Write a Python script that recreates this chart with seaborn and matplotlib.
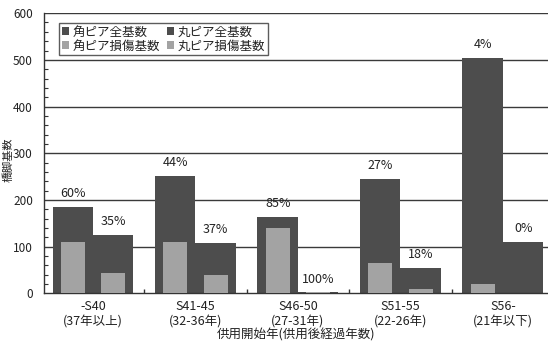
import matplotlib
matplotlib.use("Agg")
import matplotlib.pyplot as plt
import seaborn as sns
import pandas as pd
import numpy as np
from matplotlib.ticker import MultipleLocator, FixedLocator
from matplotlib.patches import Patch

categories = ["-S40\n(37年以上)", "S41-45\n(32-36年)", "S46-50\n(27-31年)", "S51-55\n(22-26年)", "S56-\n(21年以下)"]
square_total = [185, 251, 164, 244, 505]
round_total = [126, 108, 2, 55, 110]
square_damaged = [111, 110, 139, 65, 20]
round_damaged = [44, 40, 2, 10, 0]
square_pct = ["60%", "44%", "85%", "27%", "4%"]
round_pct = ["35%", "37%", "100%", "18%", "0%"]
y_ticks = [0, 100, 200, 300, 400, 500, 600]

sns.set_theme(style="white")
plt.rcParams['font.family'] = ['Noto Sans CJK JP', 'DejaVu Sans']

dark = "#4d4d4d"
light = "#a3a3a3"
fs = 9

df_total = pd.DataFrame({
    "cat": categories * 2,
    "val": square_total + round_total,
    "kind": ["角ピア全基数"] * 5 + ["丸ピア全基数"] * 5,
})
df_dmg = pd.DataFrame({
    "cat": categories * 2,
    "val": square_damaged + round_damaged,
    "kind": ["角ピア損傷基数"] * 5 + ["丸ピア損傷基数"] * 5,
})

fig = plt.figure(figsize=(5.48, 3.46), dpi=100)
ax = fig.add_axes([0.0803, 0.152, 0.9197, 0.810])

for y in y_ticks[1:]:
    ax.axhline(y, color="#3a3a3a", lw=1.0, zorder=0)

sns.barplot(data=df_total, x="cat", y="val", hue="kind", palette=[dark, dark],
            width=0.79, gap=0, ax=ax, saturation=1, zorder=2, legend=True)
sns.barplot(data=df_dmg, x="cat", y="val", hue="kind", palette=[light, light],
            width=0.79, gap=0.41, ax=ax, saturation=1, zorder=3, legend=True)

for p in ax.patches:
    p.set_linewidth(0)

# percent labels
bw = 0.79 / 2
for i in range(len(categories)):
    ax.annotate(square_pct[i], (i - bw / 2, square_total[i]), xytext=(0, 5),
                textcoords="offset points", ha="center", va="bottom", fontsize=fs, color="#222")
    ax.annotate(round_pct[i], (i + bw / 2, round_total[i]), xytext=(0, 5),
                textcoords="offset points", ha="center", va="bottom", fontsize=fs, color="#222")

ax.set_ylim(0, 600)
ax.set_xlim(-0.478, 4.44)
ax.set_yticks(y_ticks)
ax.yaxis.set_minor_locator(MultipleLocator(20))
ax.tick_params(axis="y", which="major", length=0, labelsize=8.5, pad=8, colors="#222")
ax.tick_params(axis="y", which="minor", left=True, direction="in", length=3, color="#333", width=0.8)
ax.set_xticks(range(len(categories)))
ax.set_xticklabels(categories, fontsize=fs, linespacing=1.25, color="#222")
ax.xaxis.set_minor_locator(FixedLocator([0.5, 1.5, 2.5, 3.5]))
ax.tick_params(axis="x", which="major", length=0, pad=5)
ax.tick_params(axis="x", which="minor", bottom=True, direction="in", length=3, color="#333")

ax.set_xlabel("供用開始年(供用後経過年数)", fontsize=fs, color="#222", labelpad=0)
ax.set_ylabel("")
fig.text(8.5 / 548, 1 - 160 / 346, "橋脚基数", rotation=90, ha="center", va="center",
         fontsize=8, color="#222")

for s in ["left", "bottom"]:
    ax.spines[s].set_color("#333")
    ax.spines[s].set_linewidth(1.0)
ax.spines["top"].set_visible(False)
ax.spines["right"].set_visible(False)

order = ["角ピア全基数", "角ピア損傷基数", "丸ピア全基数", "丸ピア損傷基数"]
cols = {"角ピア全基数": dark, "丸ピア全基数": dark, "角ピア損傷基数": light, "丸ピア損傷基数": light}
new_handles = [Patch(facecolor=cols[k], edgecolor="none") for k in order]
leg = ax.legend(new_handles, order, ncol=2, loc="upper left", bbox_to_anchor=(0.03, 0.965),
                fontsize=fs, frameon=True, fancybox=False, edgecolor="#333",
                handlelength=0.6, handleheight=0.6, handletextpad=0.3, columnspacing=0.5,
                labelspacing=0.1, borderpad=0.2, borderaxespad=0)
leg.get_frame().set_linewidth(1.0)
for t in leg.get_texts():
    t.set_color("#222")

fig.savefig("out.png", dpi=100)
